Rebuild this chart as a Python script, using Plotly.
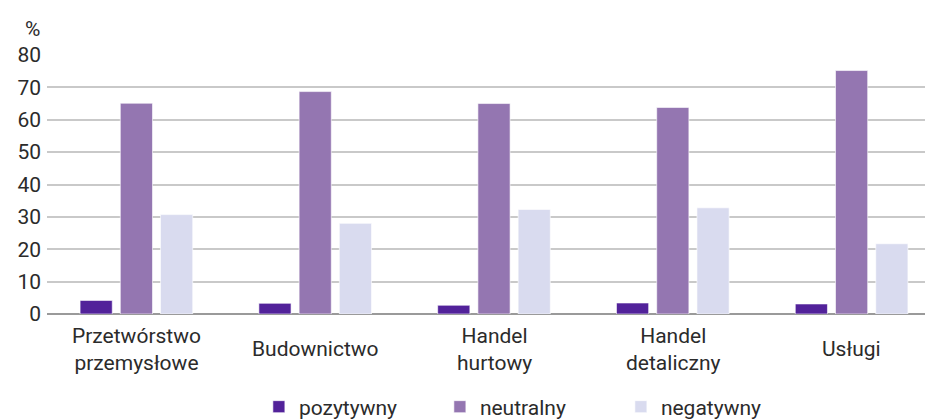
import plotly.graph_objects as go

categories = ["Przetwórstwo<br>przemysłowe", "Budownictwo", "Handel<br>hurtowy", "Handel<br>detaliczny", "Usługi"]
pozytywny = [4.2, 3.3, 2.7, 3.4, 3.1]
neutralny = [65.1, 68.7, 65.0, 63.8, 75.2]
negatywny = [30.7, 28.0, 32.3, 32.8, 21.7]
series_names = ["pozytywny", "neutralny", "negatywny"]
colors = ["#52229a", "#9476b1", "#d9dbef"]
y_ticks = [0, 10, 20, 30, 40, 50, 60, 70, 80]

fig = go.Figure()
for name, vals, col in zip(series_names, [pozytywny, neutralny, negatywny], colors):
    fig.add_trace(go.Bar(x=categories, y=vals, name=name,
                         marker=dict(color=col, line=dict(color="rgba(255,255,255,0.6)", width=1))))

font_family = "Roboto, 'Noto Sans', sans-serif"
txt = "#2b2b2b"

# category labels, vertically centred below the axis (as in the reference)
cat_labels = [dict(text=c, x=c, xref="x", y=0, yref="paper", yshift=-35,
                   xanchor="center", yanchor="middle", showarrow=False,
                   font=dict(size=21, color=txt)) for c in categories]

fig.update_layout(
    width=933, height=420,
    margin=dict(l=39, r=0, t=47, b=105),
    paper_bgcolor="white", plot_bgcolor="white",
    barmode="group", bargap=0.325, bargroupgap=0.2,
    font=dict(family=font_family, size=21, color=txt),
    showlegend=True,
    legend=dict(orientation="h", x=0.237, xanchor="left", xref="paper",
                y=-0.28, yanchor="top", entrywidth=136, traceorder="normal",
                font=dict(size=21, color=txt), itemwidth=30),
    xaxis=dict(showgrid=False, showline=False, ticks="", showticklabels=False,
               automargin=False),
    yaxis=dict(range=[0, 80], tickvals=y_ticks, showgrid=True, gridcolor="#c9c9c9",
               gridwidth=1.5, zeroline=True, zerolinecolor="#9a9a9a", zerolinewidth=1.5,
               ticks="", ticklabelstandoff=5, tickfont=dict(size=21, color=txt), automargin=False),
    annotations=cat_labels + [dict(text="%", xref="paper", yref="paper", x=-0.006, y=1.045,
                      xanchor="right", yanchor="bottom", showarrow=False,
                      font=dict(size=21, color=txt))],
)
fig.write_html("out.html")
